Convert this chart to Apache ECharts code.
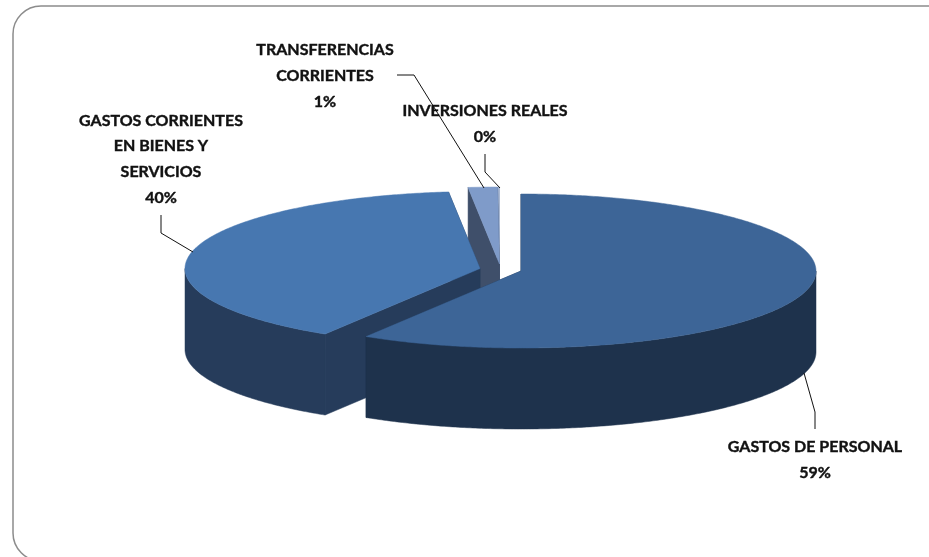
<!DOCTYPE html>
<html>
<head>
<meta charset="utf-8">
<style>
  html, body { margin: 0; padding: 0; background: #fff; }
  #main { width: 929px; height: 557px; }
</style>
<script src="https://cdn.jsdelivr.net/npm/echarts@6/dist/echarts.min.js"></script>
</head>
<body>
<div id="main"></div>
<script>
// datos (el rotulo redondea distinto que el corte)
const categories = ['GASTOS DE PERSONAL', 'GASTOS CORRIENTES\nEN BIENES Y\nSERVICIOS', 'TRANSFERENCIAS\nCORRIENTES', 'INVERSIONES REALES']
const sliceValues = [58.8, 39.5, 1.6, 0.1]
const percentLabels = ['59%', '40%', '1%', '0%']

// colores por porcion: cara superior, pared exterior, cara interior
const topColors = ['#3d6597', '#4777b0', '#7f9bc9', '#b7c7e2']
const wallColors = ['#1e324c', '#263c5b', '#3f4f6a', '#5a6a85']

// geometria del pastel en perspectiva
const center = [521, 271]
const radiusX = 295
const radiusY = 77
const depth = 81
const explode = [[0, 0], [-41, -2.5], [-21.5, -7], [-21.5, -7]]

// rotulos y lineas guia
const labelPos = [[815, 459.5], [161, 159], [325, 76], [485, 123.5]]
const leaders = [
  [[804, 373], [815, 412], [815, 429]],
  [[161, 215], [161, 233], [193, 252]],
  [[397, 75], [414, 75], [484, 188]],
  [[485, 154], [485, 172], [500, 188]]
]

// orden de pintado: de atras hacia adelante
const paintOrder = [3, 2, 1, 0]

const total = sliceValues.reduce((a, b) => a + b, 0)
const sliceStart = []
let running = 0
sliceValues.forEach(v => {
  sliceStart.push(running / total * Math.PI * 2)
  running += v
})

function rimPoint(i, angle, drop) {
  return [
    center[0] + explode[i][0] + radiusX * Math.sin(angle),
    center[1] + explode[i][1] - radiusY * Math.cos(angle) + drop
  ]
}

function arcPoints(i, from, to, drop) {
  const pts = []
  const steps = Math.max(2, Math.ceil((to - from) / 0.01))
  for (let s = 0; s <= steps; s++) {
    pts.push(rimPoint(i, from + (to - from) * s / steps, drop))
  }
  return pts
}

function renderSlice(params) {
  const i = paintOrder[params.dataIndex]
  const from = sliceStart[i]
  const to = from + sliceValues[i] / total * Math.PI * 2
  const apex = [center[0] + explode[i][0], center[1] + explode[i][1]]
  const children = []
  const face = (points, fill) => children.push({
    type: 'polygon',
    shape: { points: points },
    style: { fill: fill, stroke: fill, lineWidth: 0.5 }
  })

  // caras interiores
  ;[to, from].forEach(a => {
    const p = rimPoint(i, a, 0)
    face([apex, p, [p[0], p[1] + depth], [apex[0], apex[1] + depth]], wallColors[i])
  })

  // pared exterior, solo la mitad delantera
  const wallFrom = Math.max(from, Math.PI / 2)
  const wallTo = Math.min(to, Math.PI * 1.5)
  if (wallTo > wallFrom) {
    const upper = arcPoints(i, wallFrom, wallTo, 0)
    const lower = arcPoints(i, wallFrom, wallTo, depth).reverse()
    face(upper.concat(lower), wallColors[i])
  }

  // cara superior
  face([apex].concat(arcPoints(i, from, to, 0)), topColors[i])

  return { type: 'group', children: children }
}

function renderLabel(params) {
  const i = params.dataIndex
  return {
    type: 'group',
    children: [
      {
        type: 'polyline',
        shape: { points: leaders[i] },
        style: { fill: null, stroke: '#111', lineWidth: 1 }
      },
      {
        type: 'text',
        style: {
          x: labelPos[i][0],
          y: labelPos[i][1],
          text: categories[i] + '\n' + percentLabels[i],
          align: 'center',
          verticalAlign: 'middle',
          fill: '#111',
          stroke: '#111',
          lineWidth: 0.4,
          font: 'bold 16px Lato',
          lineHeight: 25.7
        }
      }
    ]
  }
}

const chart = echarts.init(document.getElementById('main'), null, { renderer: 'canvas' })
chart.setOption({
  animation: false,
  backgroundColor: '#fff',
  graphic: [{
    type: 'rect',
    silent: true,
    shape: { x: 13, y: 6, width: 960, height: 555, r: 28 },
    style: { fill: null, stroke: '#8c8c8c', lineWidth: 1.5 }
  }],
  series: [
    {
      type: 'custom',
      coordinateSystem: 'none',
      silent: true,
      data: paintOrder.map(i => sliceValues[i]),
      renderItem: renderSlice
    },
    {
      type: 'custom',
      coordinateSystem: 'none',
      silent: true,
      z: 3,
      data: categories,
      renderItem: renderLabel
    }
  ]
})
</script>
</body>
</html>
